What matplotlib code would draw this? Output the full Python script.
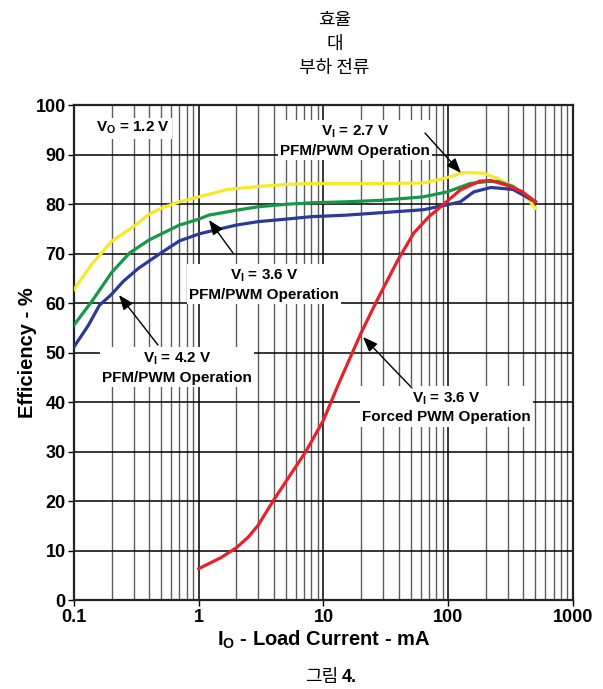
import matplotlib
matplotlib.use("Agg")
import matplotlib.pyplot as plt
from matplotlib.ticker import LogLocator, FixedLocator, NullFormatter

plt.rcParams['font.family'] = ['Liberation Sans', 'DejaVu Sans']
plt.rcParams['font.weight'] = 'bold'
plt.rcParams['mathtext.fontset'] = 'custom'
plt.rcParams['mathtext.rm'] = 'Liberation Sans:bold'
plt.rcParams['mathtext.it'] = 'Liberation Sans:bold'
plt.rcParams['mathtext.bf'] = 'Liberation Sans:bold'
plt.rcParams['mathtext.default'] = 'rm'

# Efficiency curves (load current in mA, efficiency in %)
i_27 = [0.1, 0.14, 0.2, 0.3, 0.4, 0.5, 0.7, 1, 1.7, 3, 5, 8, 15, 30, 63, 92, 133, 190, 250, 335, 430, 500]
eff_27 = [62.8, 68, 72.5, 75.5, 78, 79.2, 80.5, 81.5, 83, 83.6, 84, 84.2, 84.2, 84.2, 84.3, 85.2, 86.4, 86.3, 85.2, 83.5, 81.2, 79.2]

i_36 = [0.1, 0.14, 0.2, 0.28, 0.4, 0.5, 0.7, 1, 1.2, 2, 3, 5, 8, 15, 29, 63, 98, 150, 205, 250, 330, 500]
eff_36 = [55.6, 60.5, 66.2, 70.2, 72.8, 74, 75.8, 77, 77.8, 78.8, 79.5, 80, 80.3, 80.5, 80.8, 81.5, 82.5, 84.2, 84.6, 84.6, 83.6, 80.5]

i_42 = [0.1, 0.13, 0.16, 0.2, 0.25, 0.33, 0.5, 0.7, 1, 1.3, 2, 3, 5, 8, 15, 29, 63, 98, 125, 160, 220, 330, 500]
eff_42 = [51.2, 55.5, 59.6, 61.8, 64.5, 67.1, 70.2, 72.6, 74, 74.7, 75.8, 76.5, 77, 77.5, 77.8, 78.3, 78.9, 79.9, 80.5, 82.5, 83.4, 83, 80.5]

i_pwm = [1, 1.5, 2, 2.5, 3, 4, 5, 6, 7.2, 10, 13, 20, 27, 40, 53, 70, 87, 125, 180, 220, 290, 390, 500]
eff_pwm = [6.4, 8.6, 10.6, 12.8, 15.2, 20.3, 24, 27, 30, 36.4, 43.3, 54, 60.7, 69, 74.2, 77.5, 79.5, 82.9, 84.7, 84.8, 83.9, 82.6, 80.5]

x_ticks = [0.1, 1, 10, 100, 1000]
x_tick_labels = ['0.1', '1', '10', '100', '1000']
y_ticks = list(range(0, 101, 10))

fig = plt.figure(figsize=(6.03, 6.89), dpi=100)
ax = fig.add_axes([0.1227, 0.1287, 0.8275, 0.7185])

lw = 2.3
ax.plot(i_27, eff_27, color='#f6e82a', lw=lw, solid_joinstyle='round', zorder=3)
ax.plot(i_36, eff_36, color='#16974a', lw=lw, solid_joinstyle='round', zorder=3)
ax.plot(i_42, eff_42, color='#2b3a98', lw=lw, solid_joinstyle='round', zorder=3)
ax.plot(i_pwm, eff_pwm, color='#e8202a', lw=lw, solid_joinstyle='round', zorder=4)

ax.set_xscale('log')
ax.set_xlim(0.1, 1000)
ax.set_ylim(0, 100)
ax.xaxis.set_major_locator(FixedLocator(x_ticks))
ax.set_xticklabels(x_tick_labels)
ax.xaxis.set_minor_locator(LogLocator(base=10, subs=range(2, 10), numticks=20))
ax.xaxis.set_minor_formatter(NullFormatter())
ax.set_yticks(y_ticks)

ax.grid(which='major', color='black', lw=1.1, zorder=1)
ax.grid(which='minor', axis='x', color='#5c5c5c', lw=1.0, zorder=1)
ax.set_axisbelow(True)

for s in ax.spines.values():
    s.set_linewidth(1.6)
    s.set_color('#222222')
ax.tick_params(which='major', direction='out', length=4, width=1, labelsize=13, pad=2)
ax.tick_params(which='minor', length=0)
for lab in ax.get_xticklabels() + ax.get_yticklabels():
    lab.set_fontweight('bold')

ax.set_ylabel('Efficiency - %', fontsize=14.5, fontweight='bold', labelpad=-1)
ax.set_xlabel('I$_O$ - Load Current - mA', fontsize=14.5, fontweight='bold', labelpad=2)

box = dict(boxstyle='square,pad=0.15', fc='white', ec='none')
txt = dict(transform=ax.transAxes, ha='center', va='center', fontsize=11,
           fontweight='bold', linespacing=1.35, bbox=box, zorder=6)

ax.text(0.118, 0.954, 'V$_O$ = 1.2 V', **txt)
ax.text(0.563, 0.928, 'V$_I$ = 2.7 V\nPFM/PWM Operation', **txt)
ax.text(0.381, 0.638, 'V$_I$ = 3.6 V\nPFM/PWM Operation', **txt)
ax.text(0.206, 0.470, 'V$_I$ = 4.2 V\nPFM/PWM Operation', **txt)
ax.text(0.747, 0.390, 'V$_I$ = 3.6 V\nForced PWM Operation', **txt)

arrow = dict(arrowstyle='-|>,head_length=0.9,head_width=0.35', color='black',
             lw=1, shrinkA=0, shrinkB=0, mutation_scale=10)


def px(x, y):
    # pixel position inside the plot frame -> axes fraction
    return ((x - 74) / 499, (600.3 - y) / 495)


for tail, head in [((425, 133), (461, 173)),
                   ((233, 253), (209, 220)),
                   ((158, 345), (119, 295)),
                   ((412, 388), (363, 337))]:
    ax.annotate('', xy=px(*head), xytext=px(*tail), xycoords='axes fraction',
                textcoords='axes fraction', arrowprops=arrow, zorder=7)

# Korean title and caption
kr = ['Noto Sans CJK KR', 'DejaVu Sans']
fig.text(0.555, 1 - 20 / 689, '효율', ha='center', va='center', fontsize=13,
         family=kr, fontweight='normal')
fig.text(0.555, 1 - 44 / 689, '대', ha='center', va='center', fontsize=13,
         family=kr, fontweight='normal')
fig.text(0.555, 1 - 68 / 689, '부하 전류', ha='center', va='center', fontsize=13,
         family=kr, fontweight='normal')
fig.text(338 / 603, 1 - 677 / 689, '그림', ha='right', va='center', fontsize=13,
         family=kr, fontweight='normal')
fig.text(342 / 603, 1 - 677 / 689, '4.', ha='left', va='center', fontsize=13,
         fontweight='bold')

fig.savefig('out.png', dpi=100)
